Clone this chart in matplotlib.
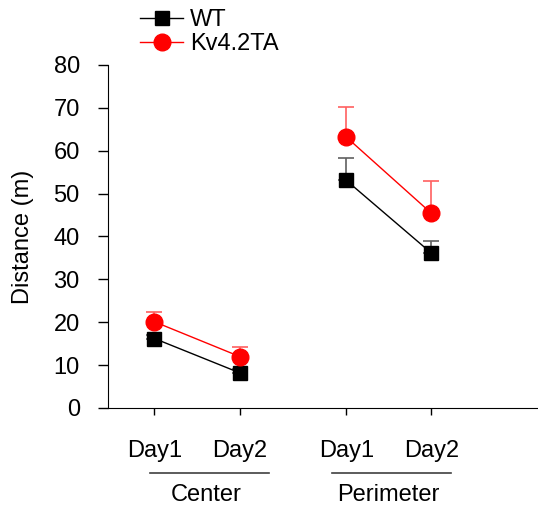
import matplotlib
matplotlib.use("Agg")
import matplotlib.pyplot as plt
from matplotlib.lines import Line2D

plt.rcParams['font.family'] = ['Liberation Sans', 'DejaVu Sans']

day_labels = ["Day1", "Day2", "Day1", "Day2"]
groups = ["Center", "Perimeter"]
x_center = [1, 2]
x_perim = [3.25, 4.25]

wt_center = [16.2, 8.2]
wt_center_err = [0.8, 0.8]
kv_center = [20.1, 12.0]
kv_center_err = [2.3, 2.2]

wt_perim = [53.1, 36.1]
wt_perim_err = [5.2, 2.8]
kv_perim = [63.2, 45.4]
kv_perim_err = [6.9, 7.6]

FS = 17

fig = plt.figure(figsize=(5.38, 5.11), dpi=100)
ax = fig.add_axes([0.2, 0.2016, 0.8, 0.6712])

def draw(xs, ys, errs, color, ecolor, marker, ms, z):
    ax.errorbar(xs, ys, yerr=[[0]*len(errs), errs], fmt='none', ecolor=ecolor,
                elinewidth=1.2, capsize=5.5, capthick=1.2, zorder=z)
    ax.plot(xs, ys, color=color, lw=1, marker=marker, ms=ms, mfc=color,
            mec=color, zorder=z + 1)

for xs, w, we, k, ke in [(x_center, wt_center, wt_center_err, kv_center, kv_center_err),
                          (x_perim, wt_perim, wt_perim_err, kv_perim, kv_perim_err)]:
    draw(xs, w, we, 'black', '#606060', 's', 10.5, 3)
    draw(xs, k, ke, 'red', '#ff6060', 'o', 12, 5)

ax.set_xlim(0.45, 5.5)
ax.set_ylim(0, 80)
ax.set_yticks(range(0, 81, 10))
ax.set_xticks(x_center + x_perim)
ax.set_xticklabels(day_labels)
ax.spines['top'].set_visible(False)
ax.spines['right'].set_visible(False)
ax.tick_params(axis='y', labelsize=FS, length=7, width=1, pad=13)
ax.tick_params(axis='x', labelsize=FS, length=5, width=1, pad=18)
ax.set_ylabel("Distance (m)", fontsize=FS, labelpad=14)

# group underline and labels
trans = ax.get_xaxis_transform()
group_spans = [(0.945, 2.34), (3.087, 4.483)]
group_text_x = [1.61, 3.74]
for (l, r), tx, g in zip(group_spans, group_text_x, groups):
    ax.plot([l, r], [-0.19, -0.19], transform=trans,
            color='#404040', lw=1.2, clip_on=False)
    ax.text(tx, -0.253, g, transform=trans, ha='center', va='center', fontsize=FS)

handles = [Line2D([], [], color='black', lw=1, marker='s', ms=10.5),
           Line2D([], [], color='red', lw=1, marker='o', ms=12)]
fig.legend(handles, ["WT", "Kv4.2TA"], loc='upper left', bbox_to_anchor=(0.23, 1.015),
           frameon=False, fontsize=FS, handlelength=1.8, handletextpad=0.3,
           labelspacing=0.1, borderpad=0.2)

fig.savefig("out.png", dpi=100)
